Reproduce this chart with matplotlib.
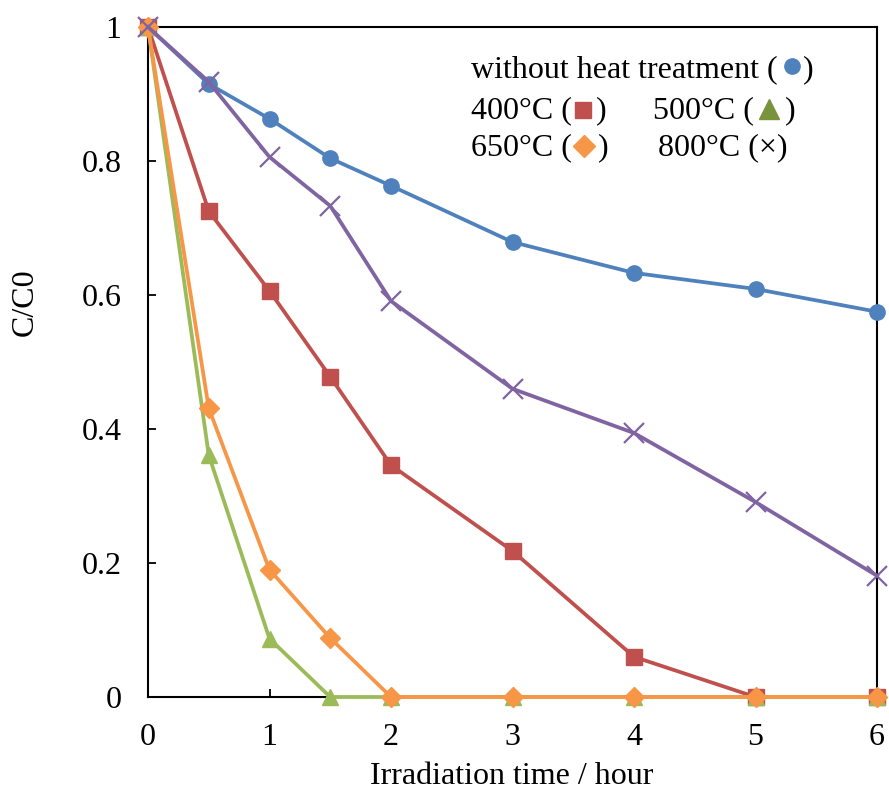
import numpy as np
import matplotlib
matplotlib.use('Agg')
from matplotlib import pyplot as plt

plt.rcParams['font.family'] = ['Liberation Serif', 'DejaVu Serif']

time_h = [0, 0.5, 1, 1.5, 2, 3, 4, 5, 6]
no_heat = [1, 0.915, 0.863, 0.804, 0.763, 0.679, 0.633, 0.609, 0.575]
c400 = [1, 0.725, 0.606, 0.478, 0.346, 0.218, 0.06, 0, 0]
c500 = [1, 0.361, 0.087, 0, 0, 0, 0, 0, 0]
c650 = [1, 0.431, 0.19, 0.088, 0, 0, 0, 0, 0]
c800 = [1, 0.918, 0.806, 0.733, 0.591, 0.46, 0.394, 0.291, 0.181]

W, H = 889, 793
fs = 23
fig = plt.figure(figsize=(W / 100, H / 100), dpi=100)
ax = fig.add_axes([148 / W, 1 - 697 / H, (877 - 148) / W, (697 - 27) / H])

lw = 2.7
ax.plot(time_h, no_heat, color='#4F81BD', lw=lw, marker='o', ms=11, clip_on=False, zorder=3)
ax.plot(time_h, c400, color='#C0504D', lw=lw, marker='s', ms=11, clip_on=False, zorder=3)
ax.plot(time_h, c500, color='#9BBB59', lw=lw, marker='^', ms=11, clip_on=False, zorder=3)
ax.plot(time_h, c650, color='#F79646', lw=lw, marker='D', ms=10, clip_on=False, zorder=3)
ax.plot(time_h, c800, color='#8064A2', lw=lw, marker='x', ms=15, mew=1.6, clip_on=False, zorder=3)

ax.set_xlim(0, 6)
ax.set_ylim(0, 1)
ax.set_xticks(range(7))
ax.set_yticks([0, 0.2, 0.4, 0.6, 0.8, 1])
ax.set_yticklabels(['0', '0.2', '0.4', '0.6', '0.8', '1'])
ax.tick_params(direction='in', length=6, width=1.3, labelsize=fs, pad=19)
for s in ax.spines.values():
    s.set_linewidth(1.5)

# axis titles
fig.text(512 / W, 1 - 776 / H, 'Irradiation time / hour', fontsize=fs, ha='center', va='center')
fig.text(25 / W, 1 - 302 / H, 'C/C0', fontsize=fs, rotation=90, ha='center', va='center')

# legend written as text with inline markers
def ftxt(x, y, s):
    fig.text(x / W, 1 - y / H, s, fontsize=fs, ha='left', va='baseline')

def fmark(x, y, **kw):
    fig.add_artist(plt.Line2D([x / W], [1 - y / H], transform=fig.transFigure, ls='none', **kw))

ftxt(471, 77, 'without heat treatment (')
fmark(792, 66, marker='o', color='#4F81BD', ms=11)
ftxt(803, 77, ')')

ftxt(471, 118, '400°C (')
fmark(583, 110, marker='s', color='#C0504D', ms=12)
ftxt(596, 118, ')')
ftxt(653, 118, '500°C (')
fmark(769, 109, marker='^', color='#77933C', ms=15)
ftxt(785, 118, ')')

ftxt(471, 155, '650°C (')
fmark(584, 146, marker='D', color='#F79646', ms=11)
ftxt(598, 155, ')')
ftxt(658, 155, '800°C (×)')

fig.savefig('out.png', dpi=100)
